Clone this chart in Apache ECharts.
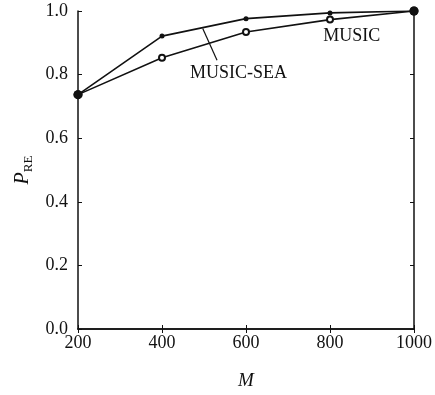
<!DOCTYPE html>
<html>
<head>
<meta charset="utf-8">
<script src="https://cdn.jsdelivr.net/npm/echarts@6/dist/echarts.min.js"></script>
<style>
html, body { margin: 0; padding: 0; background: #fff; }
#chart { width: 435px; height: 395px; }
</style>
</head>
<body>
<div id="chart"></div>
<script>
// M values on the x axis
var mValues = [200, 400, 600, 800, 1000];
// P_RE
var musicSea = [0.737, 0.921, 0.976, 0.994, 1.0];
var music = [0.737, 0.853, 0.934, 0.973, 1.0];
var yTicks = ['0.0', '0.2', '0.4', '0.6', '0.8', '1.0'];

var font = '"Liberation Serif", "DejaVu Serif", serif';
var ink = '#111';

function points(xs, ys, mid, size) {
  return xs.map(function (x, i) {
    var end = (i === 0 || i === xs.length - 1);
    return {
      value: [x, ys[i]],
      symbol: end ? 'circle' : mid,
      symbolSize: end ? 9 : size
    };
  });
}

var tick = { inside: true, length: 4, lineStyle: { color: ink } };
var line = { lineStyle: { color: ink, width: 1.5 } };

var chart = echarts.init(document.getElementById('chart'));
chart.setOption({
  animation: false,
  backgroundColor: '#fff',
  grid: { left: 78, right: 21, top: 11, bottom: 66 },
  xAxis: [{
    type: 'value', min: 200, max: 1000, interval: 200,
    position: 'bottom',
    name: 'M', nameLocation: 'middle', nameGap: 42,
    nameTextStyle: { fontFamily: font, fontStyle: 'italic', fontSize: 19, color: ink },
    axisLine: line, axisTick: tick,
    axisLabel: { fontFamily: font, fontSize: 18, color: ink, margin: 5,
      formatter: function (v) { return String(v); } },
    splitLine: { show: false }
  }, {
    type: 'value', min: 200, max: 1000, interval: 200,
    position: 'top',
    axisLine: line, axisTick: tick,
    axisLabel: { show: false },
    splitLine: { show: false }
  }],
  yAxis: [{
    type: 'value', min: 0, max: 1, interval: 0.2,
    position: 'left',
    name: '{p|P}{s|RE}', nameLocation: 'middle', nameGap: 40,
    nameTextStyle: {
      rich: {
        p: { fontFamily: font, fontStyle: 'italic', fontSize: 20, color: ink },
        s: { fontFamily: font, fontSize: 13, color: ink, padding: [10, 0, 0, 0] }
      }
    },
    axisLine: line, axisTick: tick,
    axisLabel: {
      fontFamily: font, fontSize: 18, color: ink, margin: 10,
      formatter: function (v) { return yTicks[Math.round(v * 5)]; }
    },
    splitLine: { show: false }
  }, {
    type: 'value', min: 0, max: 1, interval: 0.2,
    position: 'right',
    axisLine: line, axisTick: tick,
    axisLabel: { show: false },
    splitLine: { show: false }
  }],
  series: [{
    name: 'MUSIC',
    type: 'line',
    data: points(mValues, music, 'emptyCircle', 6),
    lineStyle: { color: ink, width: 1.6 },
    itemStyle: { color: ink, borderWidth: 1.5 },
    markPoint: {
      silent: true, symbol: 'rect', symbolSize: 1,
      itemStyle: { color: 'rgba(0,0,0,0)' },
      label: { show: true, fontFamily: font, fontSize: 18, color: ink },
      data: [
        { coord: [852, 0.92], label: { formatter: 'MUSIC' } },
        { coord: [582, 0.805], label: { formatter: 'MUSIC-SEA' } }
      ]
    }
  }, {
    name: 'MUSIC-SEA',
    type: 'line',
    data: points(mValues, musicSea, 'circle', 5),
    lineStyle: { color: ink, width: 1.6 },
    itemStyle: { color: ink },
    markLine: {
      silent: true, symbol: 'none',
      lineStyle: { color: ink, width: 1.2, type: 'solid' },
      label: { show: false },
      data: [[{ coord: [497, 0.945] }, { coord: [531, 0.845] }]]
    }
  }]
});
</script>
</body>
</html>
